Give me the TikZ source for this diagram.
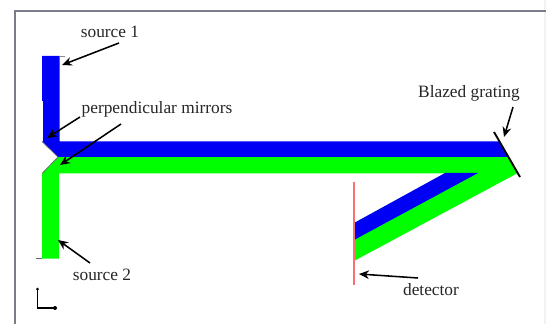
\documentclass[tikz,border=0pt]{standalone}
\usepackage{fontspec}
\setmainfont{Liberation Serif}
\usetikzlibrary{arrows.meta}
\definecolor{beamblue}{RGB}{0,0,245}
\definecolor{beamgreen}{RGB}{0,255,0}
\definecolor{detred}{RGB}{255,110,110}
\definecolor{framegray}{RGB}{120,125,135}
\tikzset{
  lbl/.style={font=\fontsize{13}{14}\selectfont, text=black!85, inner sep=0pt, anchor=center},
  pointer/.style={-{Stealth[length=7.5pt,width=6.5pt]}, line width=1.15pt, black},
}
\begin{document}
\begin{tikzpicture}[x=0.75pt,y=-0.75pt]
\useasboundingbox (0,0) rectangle (546,324);
\fill[white] (0,0) rectangle (546,324);
\fill[black!5] (544,0) rectangle (546,324);
% frame
\draw[framegray, line width=1.1pt] (15,324) -- (15,11) -- (546,11);
% beams
\fill[beamgreen] (42,173.5) -- (58,157) -- (508.5,157) -- (517.5,173) -- (515,174.5) -- (354,261) -- (354,173.5) -- (59,173.5) -- (59,258.5) -- (42,258.5) -- cycle;
\fill[white] (354,173.5) -- (445,173.5) -- (354,223) -- cycle;
\fill[beamblue] (42,56) -- (59.5,56) -- (59.5,141.5) -- (499.5,141.5) -- (508.5,157) -- (58,157) -- (42,141.5) -- (43.2,141.5) -- (43.2,101) -- (42,101) -- cycle;
\fill[beamblue] (445,173) -- (478,173) -- (354,240) -- (354,223) -- cycle;
% small stubs
\draw[black!45, line width=0.5pt] (59.5,56) -- (65,56);
\draw[black!60, line width=0.5pt] (36,258.5) -- (42,258.5);
% mirrors edges
\draw[black!60, line width=0.5pt] (42,141.5) -- (58,157) -- (42,173.5);
% grating and detector
\draw[black, line width=1.4pt] (494,132) -- (520,177);
\draw[detred, line width=1.2pt] (354,182) -- (354,285);
% axes
\coordinate (axisY) at (37.5,289);
\coordinate (axisO) at (37.5,308);
\coordinate (axisX) at (55,308);
\draw[black, line width=1pt] (axisY) -- (axisO) -- (axisX);
\fill (axisY) circle (1.5);
\fill (axisX) circle (2);
% labels
\node[lbl] (s1) at (110,31.5) {source 1};
\node[lbl] (pm) at (157,109) {perpendicular mirrors};
\node[lbl] (bg) at (469,93) {Blazed grating};
\node[lbl] (s2) at (102,275) {source 2};
\node[lbl] (dt) at (431,290) {detector};
% pointer ends
\coordinate (s1a) at (119,43);   \coordinate (s1b) at (62,65);
\coordinate (m1a) at (80,117);   \coordinate (m1b) at (47,138);
\coordinate (m2a) at (121,124);  \coordinate (m2b) at (60,165);
\coordinate (s2a) at (90,263);   \coordinate (s2b) at (58,240);
\coordinate (bga) at (513,107);  \coordinate (bgb) at (504,137);
\coordinate (dta) at (418,278);  \coordinate (dtb) at (359,274);
\draw[pointer] (s1a) -- (s1b);
\draw[pointer] (m1a) -- (m1b);
\draw[pointer] (m2a) -- (m2b);
\draw[pointer] (s2a) -- (s2b);
\draw[pointer] (bga) -- (bgb);
\draw[pointer] (dta) -- (dtb);
\end{tikzpicture}
\end{document}
